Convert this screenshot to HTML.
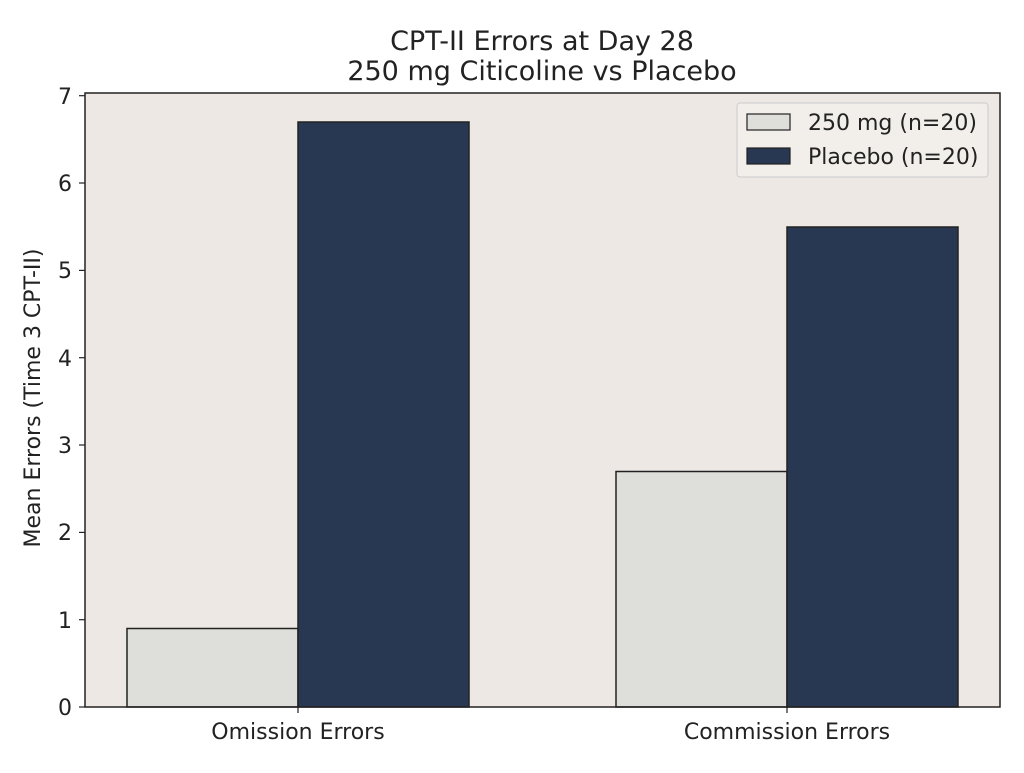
<!DOCTYPE html>
<html><head><meta charset="utf-8"><style>
body{margin:0;background:#fff;}
svg text{font-family:"DejaVu Sans",sans-serif;fill:#222;}
</style></head><body>
<svg width="1024" height="768" viewBox="0 0 1024 768" xmlns="http://www.w3.org/2000/svg">
<rect width="1024" height="768" fill="#fff"/>
<text x="542" y="50" font-size="27" text-anchor="middle">CPT-II Errors at Day 28</text>
<text x="542" y="80" font-size="27" text-anchor="middle">250 mg Citicoline vs Placebo</text>
<rect x="85" y="93" width="915" height="614" fill="#ede8e3"/>
<rect x="127" y="628.5" width="171" height="78.5" fill="#dedfdb" stroke="#222" stroke-width="1.5"/>
<rect x="298" y="122" width="171" height="585" fill="#293852" stroke="#222" stroke-width="1.5"/>
<rect x="616" y="471.5" width="171" height="235.5" fill="#dedfdb" stroke="#222" stroke-width="1.5"/>
<rect x="787" y="227" width="171" height="480" fill="#293852" stroke="#222" stroke-width="1.5"/>
<rect x="85" y="93" width="915" height="614" fill="none" stroke="#222" stroke-width="1.5"/>
<g font-size="22" text-anchor="end">
<text x="72" y="715">0</text><text x="72" y="628">1</text><text x="72" y="540">2</text>
<text x="72" y="453">3</text><text x="72" y="366">4</text><text x="72" y="278">5</text>
<text x="72" y="191">6</text><text x="72" y="104">7</text>
</g>
<g stroke="#222" stroke-width="1.2">
<line x1="79" y1="707" x2="85" y2="707"/><line x1="79" y1="619.7" x2="85" y2="619.7"/>
<line x1="79" y1="532.4" x2="85" y2="532.4"/><line x1="79" y1="445" x2="85" y2="445"/>
<line x1="79" y1="357.7" x2="85" y2="357.7"/><line x1="79" y1="270.4" x2="85" y2="270.4"/>
<line x1="79" y1="183" x2="85" y2="183"/><line x1="79" y1="95.7" x2="85" y2="95.7"/>
<line x1="298" y1="707" x2="298" y2="713"/><line x1="787" y1="707" x2="787" y2="713"/>
</g>
<text x="298" y="739" font-size="22" text-anchor="middle">Omission Errors</text>
<text x="787" y="739" font-size="22" text-anchor="middle">Commission Errors</text>
<text transform="translate(40,398) rotate(-90)" font-size="22" text-anchor="middle">Mean Errors (Time 3 CPT-II)</text>
<rect x="737" y="103" width="251" height="74" rx="3" fill="#f2eeea" stroke="#ccc" stroke-width="1"/>
<rect x="747" y="114" width="43" height="16" fill="#dedfdb" stroke="#222" stroke-width="1.2"/>
<rect x="747" y="148" width="43" height="16" fill="#293852" stroke="#222" stroke-width="1.2"/>
<text x="808" y="130" font-size="22">250 mg (n=20)</text>
<text x="808" y="164" font-size="22">Placebo (n=20)</text>
</svg>
</body></html>
